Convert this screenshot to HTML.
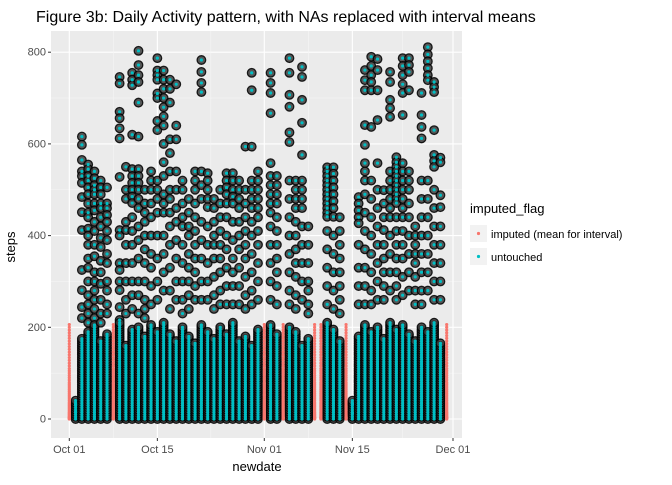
<!DOCTYPE html>
<html><head><meta charset="utf-8"><style>
body{margin:0;background:#fff;font-family:"Liberation Sans",sans-serif;}
svg text{font-family:"Liberation Sans",sans-serif;}
</style></head><body>
<svg id="chart" width="672" height="480" xmlns="http://www.w3.org/2000/svg">
<text x="36" y="22" font-size="16" fill="#000">Figure 3b: Daily Activity pattern, with NAs replaced with interval means</text>
<rect x="51" y="31" width="411" height="407" fill="#EBEBEB"/>
<g id="grid"></g>
<g id="marks"></g>
<g id="axes"></g>
<text transform="translate(15,247) rotate(-90)" text-anchor="middle" font-size="13">steps</text>
<text x="257" y="471" text-anchor="middle" font-size="13">newdate</text>
<g>
<text x="470" y="213" font-size="13">imputed_flag</text>
<g><rect x="470" y="225" width="17" height="17" fill="#F2F2F2"/><circle cx="478.5" cy="233.5" r="1.6" fill="#F8766D"/><text x="491" y="238" font-size="11">imputed (mean for interval)</text></g>
<g><rect x="470" y="248" width="17" height="17" fill="#F2F2F2"/><circle cx="478.5" cy="256.5" r="1.6" fill="#00BFC4"/><text x="491" y="261" font-size="11">untouched</text></g>
</g>
</svg>
<script>
const yTicks=[0,200,400,600,800];
const xTickDays=[0,14,31,45,61];
const xTickLabels=["Oct 01","Oct 15","Nov 01","Nov 15","Dec 01"];
const imputedDays=[0,7,31,34,39,40,44,60];
const imputedProfile=[0,1,2,3,4,5,7,9,11,13,15,18,21,24,27,30,33,36,40,44,48,52,56,60,64,68,72,76,80,85,90,95,100,105,110,116,122,128,134,140,146,152,158,164,170,176,182,188,194,200,206];
const bandTop=[0,40,175,190,205,170,185,0,210,160,195,200,180,205,190,210,185,170,200,180,165,205,190,175,200,185,210,170,180,160,195,0,205,185,0,200,190,160,175,0,0,210,195,170,0,40,180,205,190,200,175,210,195,205,185,170,200,190,210,165,0];
const dayHigh=[
[],[32,15],
[616,598,565,540,530,515,484,451,412,325,281,244,220],
[555,545,530,520,505,490,470,450,440,415,400,380,350,330,300,270,250,230,210],
[540,525,510,500,490,470,455,430,410,380,355,320,300,280,260,240,220],
[520,505,490,470,460,440,420,395,375,345,320,295,260,230,210],
[505,470,460,445,430,410,390,360,340,300,280,250,230],
[],
[746,732,670,656,634,612,528,412,400,340,325,300,281,244,216],
[550,500,480,430,412,380,340,300,260,230],
[755,740,728,620,545,530,515,500,485,471,440,410,380,340,300,270,240],
[803,772,750,735,690,616,545,530,515,500,480,460,420,390,350,300,270,230],
[500,470,450,430,400,370,340,300,260,240,220],
[540,520,500,470,440,400,360,330,290,250],
[787,760,750,740,710,700,650,630,520,500,480,450,400,350,300,260],
[760,740,720,700,680,660,640,600,560,530,490,470,450,400,360,320,280],
[740,720,690,610,580,540,500,480,450,420,380,330,280,240],
[730,640,610,540,500,460,430,390,350,300,260],
[520,500,470,440,420,380,340,300,260,230],
[480,450,420,400,360,330,300,270,240],
[540,520,500,470,440,410,380,350,320,290,260],
[783,757,733,713,540,510,480,430,390,350,300,260],
[536,520,500,480,462,420,380,340,300,260],
[480,460,430,400,380,350,310,270,240],
[500,470,440,410,380,350,320,280,250],
[536,520,505,490,470,440,400,370,330,290,250],
[536,520,500,485,470,430,390,350,320,290,250],
[520,500,480,460,430,400,370,330,290,250],
[594,500,470,440,410,380,350,310,270,240],
[755,717,594,520,500,480,460,430,400,360,320,280,250],
[540,520,500,480,460,440,410,380,340,300,260],
[],
[755,733,711,667,558,530,510,490,470,450,420,380,340,300,260],
[530,510,490,470,440,410,380,350,320,290,250],
[],
[787,755,707,681,625,604,520,480,440,400,360,320,280,250],
[520,500,480,460,430,400,370,340,310,270,240],
[768,746,696,646,576,520,500,480,460,420,380,340,300,260],
[420,380,340,300,280,250,230],
[],[],
[549,540,530,520,510,500,490,480,470,460,450,441,410,370,330,290,250],
[549,535,520,505,490,475,460,441,400,360,320,280,240],
[440,410,380,350,320,290,260,230],
[],
[33,13],
[484,470,455,440,427,380,330,290,250],
[761,739,717,641,598,558,540,520,490,450,410,370,330,290,250],
[790,770,750,735,717,637,520,480,440,400,360,320,280,250],
[785,761,717,652,558,500,460,420,380,340,300,260],
[499,470,440,412,380,350,320,290,260],
[757,735,696,678,659,540,520,500,480,460,440,400,360,320,280],
[571,560,550,540,530,520,510,500,490,480,471,440,410,380,350,320,290,260],
[787,770,750,730,711,663,558,540,520,500,480,460,440,410,380,350,310,270],
[787,772,757,717,540,520,500,470,440,400,360,320,280],
[420,400,380,360,340,310,280,250],
[711,663,637,612,520,480,440,400,360,320,280,250],
[811,795,780,765,750,739,520,480,440,400,360,320,280],
[735,724,713,630,576,563,550,500,460,420,380,340,300,260],
[570,560,488,462,420,380,340,300,260],
[]
];
const NS="http://www.w3.org/2000/svg";
const X0=51,X1=462,Y0=31,Y1=438;
function xs(d){return 69.3+6.29*d;}
function ys(v){return 419-0.4585*v;}
function mk(tag,attrs,parent){const e=document.createElementNS(NS,tag);for(const k in attrs)e.setAttribute(k,attrs[k]);parent.appendChild(e);return e;}
const grid=document.getElementById('grid'),marks=document.getElementById('marks'),axes=document.getElementById('axes');
for(let i=0;i<yTicks.length;i++){
  if(i<yTicks.length-1){const m=(yTicks[i]+yTicks[i+1])/2;
    const l=mk('line',{x1:X0,x2:X1,y1:ys(m),y2:ys(m),stroke:'#F5F5F5','stroke-width':0.6},grid);
    
    }
  const g=mk('line',{x1:X0,x2:X1,y1:ys(yTicks[i]),y2:ys(yTicks[i]),stroke:'#fff','stroke-width':1.1},grid);
  
  
  const t=mk('text',{x:X0-5,y:ys(yTicks[i])+3.5,'text-anchor':'end','font-size':11,fill:'#4D4D4D'},axes);
  t.textContent=yTicks[i];
  
  
  mk('line',{x1:X0-3,x2:X0,y1:ys(yTicks[i]),y2:ys(yTicks[i]),stroke:'#333','stroke-width':1},axes);
}
for(let i=0;i<xTickDays.length;i++){
  if(i<xTickDays.length-1){const m=(xTickDays[i]+xTickDays[i+1])/2;
    const l=mk('line',{x1:xs(m),x2:xs(m),y1:Y0,y2:Y1,stroke:'#F5F5F5','stroke-width':0.6},grid);
    
    }
  const g=mk('line',{x1:xs(xTickDays[i]),x2:xs(xTickDays[i]),y1:Y0,y2:Y1,stroke:'#fff','stroke-width':1.1},grid);
  
  
  const t=mk('text',{x:xs(xTickDays[i]),y:Y1+15,'text-anchor':'middle','font-size':11,fill:'#4D4D4D'},axes);
  t.textContent=xTickLabels[i];
  
  
  mk('line',{x1:xs(xTickDays[i]),x2:xs(xTickDays[i]),y1:Y1,y2:Y1+3,stroke:'#333','stroke-width':1},axes);
}
const big=[];
for(let d=0;d<dayHigh.length;d++){
  if(imputedDays.includes(d))continue;
  const vals=dayHigh[d].slice();
  for(let v=0;v<=bandTop[d];v+=5)vals.push(v);
  for(const v of vals)big.push([d,v]);
}
for(const p of big){
  const c=mk('circle',{cx:xs(p[0]),cy:ys(p[1]),r:4.3,fill:'rgba(60,60,60,0.85)',stroke:'rgba(0,0,0,0.85)','stroke-width':1.3},marks);
  
  
}
for(const d of imputedDays){
  for(const v of imputedProfile){
    const c=mk('circle',{cx:xs(d),cy:ys(v),r:1.6,fill:'#F8766D'},marks);
    
    
  }
}
for(const p of big){
  const c=mk('circle',{cx:xs(p[0]),cy:ys(p[1]),r:1.6,fill:'#00BFC4'},marks);
  
  
}
</script>
</body></html>
